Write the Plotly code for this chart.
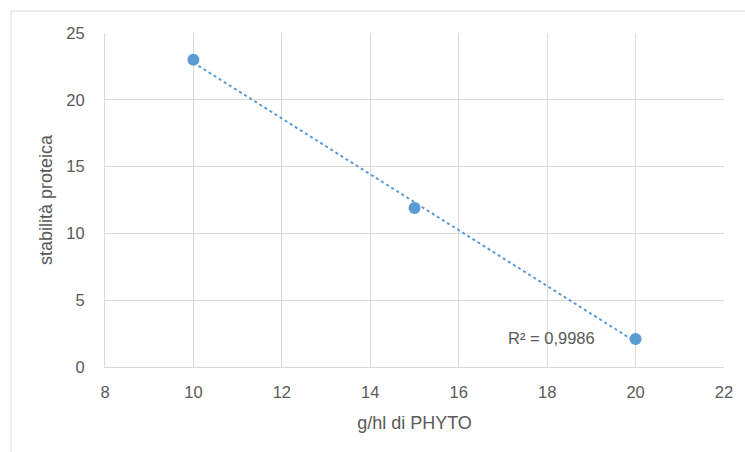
import numpy as np
import plotly.graph_objects as go

# Data
x_vals = [10, 15, 20]
y_vals = [23.0, 11.9, 2.1]
r2_label = "R² = 0,9986"
x_title = "g/hl di PHYTO"
y_title = "stabilità proteica"

# Linear trendline (least squares)
slope, intercept = np.polyfit(x_vals, y_vals, 1)
trend_x = [min(x_vals), max(x_vals)]
trend_y = [slope * v + intercept for v in trend_x]

blue = "#5B9BD5"
grey_txt = "#595959"
grid = "#D9D9D9"
font_fam = "Liberation Sans, Arial, sans-serif"

fig = go.Figure()
fig.add_trace(go.Scatter(x=trend_x, y=trend_y, mode="lines",
                         line=dict(color=blue, width=2, dash="dot"),
                         hoverinfo="skip", showlegend=False))
fig.add_trace(go.Scatter(x=x_vals, y=y_vals, mode="markers",
                         marker=dict(color=blue, size=12),
                         showlegend=False))

L, R, T, B = 105, 21, 33, 85
W, H = 745, 452
pw, ph = W - L - R, H - T - B

fig.update_layout(
    width=W, height=H,
    margin=dict(l=L, r=R, t=T, b=B),
    paper_bgcolor="white", plot_bgcolor="white",
    font=dict(family=font_fam, color=grey_txt, size=16),
    xaxis=dict(range=[8, 22], dtick=2, tick0=8, showgrid=True, gridcolor=grid,
               gridwidth=1, zeroline=False, showline=True, linecolor=grid,
               mirror=False, ticks="", ticklabelstandoff=10,
               tickfont=dict(size=16.5, color=grey_txt),
               title=dict(text=x_title, font=dict(size=18, color=grey_txt), standoff=16)),
    yaxis=dict(range=[0, 25], dtick=5, tick0=0, showgrid=True, gridcolor=grid,
               gridwidth=1, zeroline=False, showline=True, linecolor=grid,
               ticks="", ticklabelstandoff=16,
               tickfont=dict(size=16.5, color=grey_txt),
               title=dict(text=y_title, font=dict(size=18, color=grey_txt), standoff=9)),
    shapes=[dict(type="rect", xref="paper", yref="paper",
                 x0=(11 - L) / pw, x1=(W + 10 - L) / pw,
                 y0=(H - B - (H + 10)) / ph, y1=(H - B - 11) / ph,
                 line=dict(color=grid, width=1), fillcolor="rgba(0,0,0,0)", layer="below")],
    annotations=[dict(x=18.09, y=2.17, xref="x", yref="y", text=r2_label,
                      showarrow=False, font=dict(size=16.5, color=grey_txt))],
)

fig.write_html("out.html")
